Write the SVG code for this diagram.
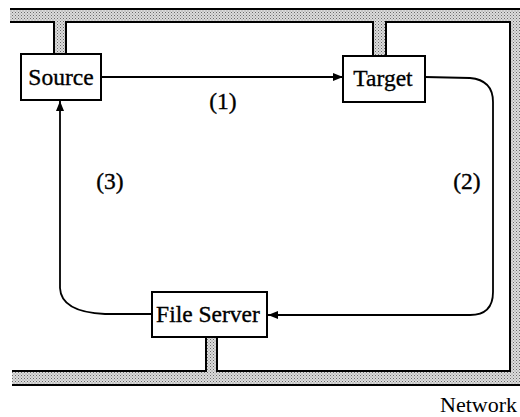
<svg xmlns="http://www.w3.org/2000/svg" width="520" height="417" viewBox="0 0 520 417">
  <defs>
    <pattern id="stipple" width="3" height="3" patternUnits="userSpaceOnUse">
      <rect width="3" height="3" fill="#dcdcdc"/>
      <rect x="0" y="0" width="1" height="1" fill="#6a6a6a"/>
      <rect x="1.5" y="1.5" width="1" height="1" fill="#8a8a8a"/>
    </pattern>
    <marker id="arrow" viewBox="0 0 10 8" refX="10" refY="4" markerWidth="10" markerHeight="8" markerUnits="userSpaceOnUse" orient="auto">
      <path d="M0,0 L10,4 L0,8 Z" fill="#000"/>
    </marker>
  </defs>
  <style>
    .line { fill: none; stroke: #000; stroke-width: 2; }
    .box { fill: #fff; stroke: #000; stroke-width: 2; }
    .lbl { font-family: "Liberation Serif", "Times New Roman", serif; font-size: 23.5px; fill: #000; stroke: #000; stroke-width: 0.35; }
    .net { font-family: "Liberation Serif", "Times New Roman", serif; font-size: 22px; fill: #000; }
    .conn { fill: none; stroke: #000; stroke-width: 1.8; }
  </style>
  <rect width="520" height="417" fill="#fff"/>

  <g id="network">
    <path d="M10,9 H520 V385 H12 V371 H206 V337 H217 V371 H510 V22 H386 V56 H373 V22 H66 V54 H54 V22 H10 Z" fill="url(#stipple)"/>
    <path class="line" d="M10,9 H520"/>
    <path class="line" d="M10,22 H54 V54 M66,54 V22 H373 V56 M386,56 V22 H510 V371 H217 V337 M206,337 V371 H12"/>
    <path class="line" d="M12,385 H520"/>
    <text class="net" x="517" y="412" text-anchor="end">Network</text>
  </g>

  <g id="connectors">
    <path class="conn" d="M101,77 H343" marker-end="url(#arrow)"/>
    <path class="conn" d="M425,77 L470,78 Q493,80 493,102 V292 Q493,315 470,315 H268" marker-end="url(#arrow)"/>
    <path class="conn" d="M152,314 H105 Q61,312 60,288 V101" marker-end="url(#arrow)"/>
    <text class="lbl" x="223" y="109" text-anchor="middle">(1)</text>
    <text class="lbl" x="467" y="189" text-anchor="middle">(2)</text>
    <text class="lbl" x="110" y="189" text-anchor="middle">(3)</text>
  </g>

  <g id="source">
    <rect class="box" x="21" y="54" width="80" height="46"/>
    <text class="lbl" x="61" y="85" text-anchor="middle">Source</text>
  </g>

  <g id="target">
    <rect class="box" x="343" y="56" width="82" height="46"/>
    <text class="lbl" x="383" y="86" text-anchor="middle">Target</text>
  </g>

  <g id="fileserver">
    <rect class="box" x="152" y="292" width="115" height="45"/>
    <text class="lbl" x="208" y="322" text-anchor="middle">File Server</text>
  </g>
</svg>
